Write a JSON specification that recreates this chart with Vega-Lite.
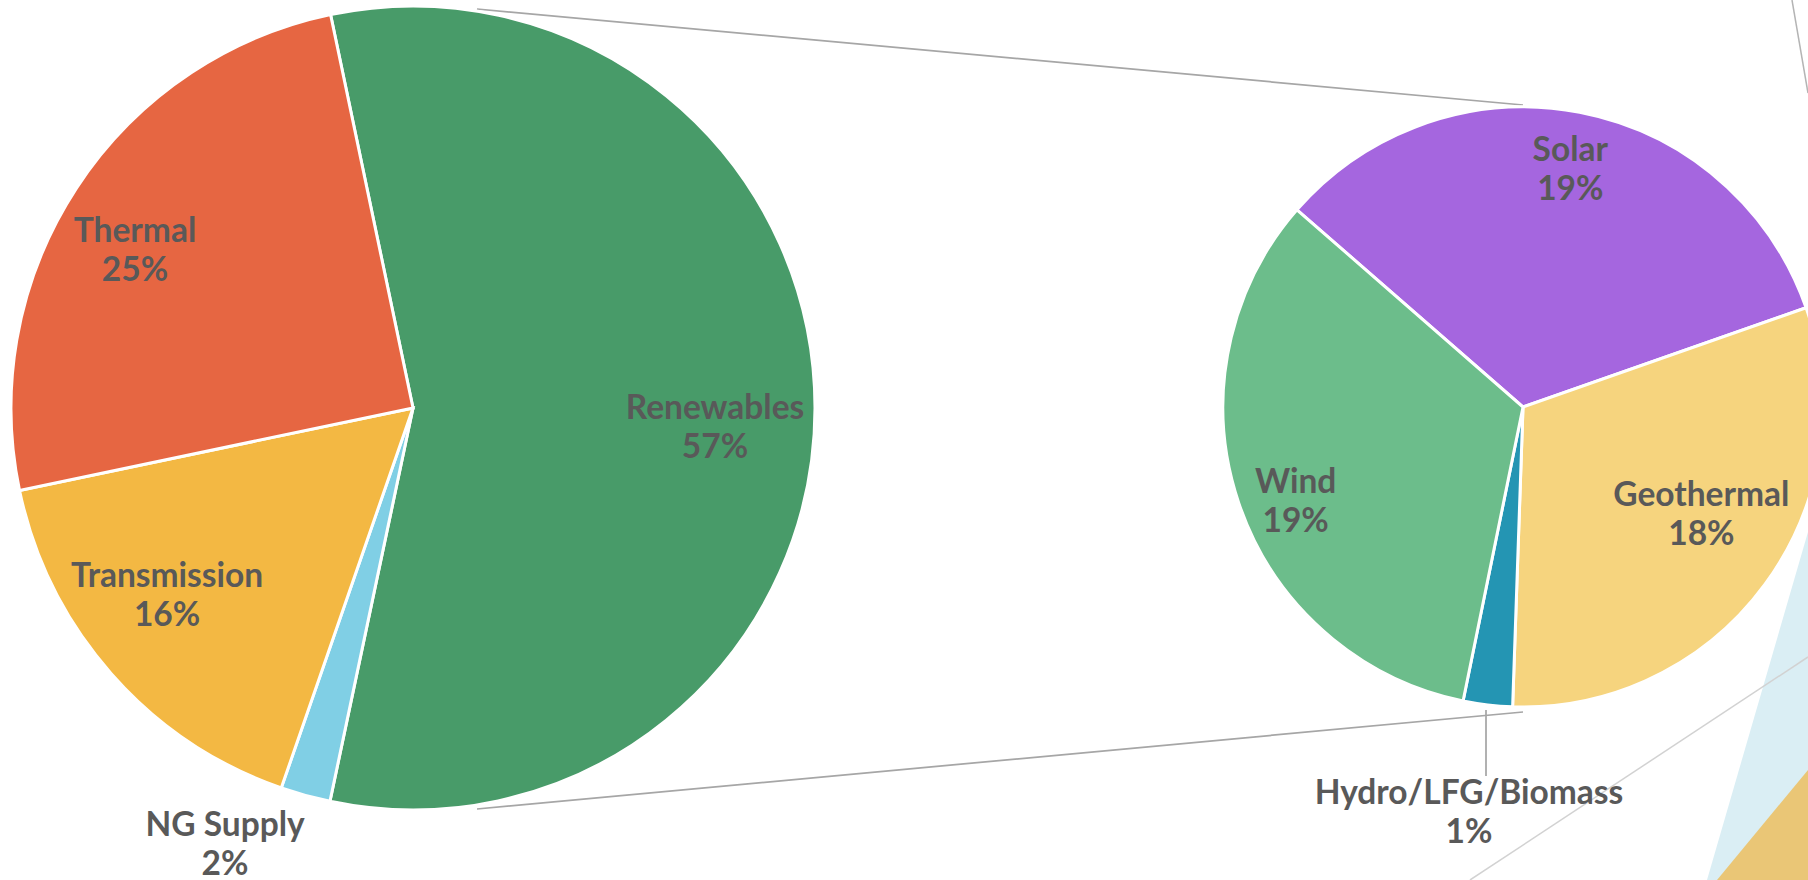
{
  "$schema": "https://vega.github.io/schema/vega-lite/v6.json",
  "width": 1808,
  "height": 880,
  "autosize": {"type": "none"},
  "padding": 0,
  "background": "white",
  "config": {"view": {"stroke": null}},
  "datasets": {
    "total": [
      {"name": "Renewables", "share": 56.6, "ord": 1, "label": "Renewables\n57%"},
      {"name": "NG Supply", "share": 2.0, "ord": 2, "label": "NG Supply\n2%"},
      {"name": "Transmission", "share": 16.4, "ord": 3, "label": "Transmission\n16%"},
      {"name": "Thermal", "share": 25.0, "ord": 4, "label": "Thermal\n25%"}
    ],
    "renewables": [
      {"name": "Solar", "share": 18.8, "ord": 1, "label": "Solar\n19%"},
      {"name": "Geothermal", "share": 17.5, "ord": 2, "label": "Geothermal\n18%"},
      {"name": "Hydro/LFG/Biomass", "share": 1.5, "ord": 3, "label": "Hydro/LFG/Biomass\n1%"},
      {"name": "Wind", "share": 18.8, "ord": 4, "label": "Wind\n19%"}
    ],
    "lines": [
      {"kind": "connector", "x": 477, "y": 9, "x2": 1523, "y2": 105},
      {"kind": "connector", "x": 477, "y": 809, "x2": 1523, "y2": 712},
      {"kind": "leader", "x": 1486, "y": 710, "x2": 1486, "y2": 776},
      {"kind": "decor", "x": 1792, "y": 0, "x2": 1808, "y2": 93},
      {"kind": "decor2", "x": 1808, "y": 657, "x2": 1470, "y2": 880}
    ],
    "areas": [
      {"kind": "blue", "x": 1707, "y": 880},
      {"kind": "blue", "x": 1808, "y": 532},
      {"kind": "tan", "x": 1717, "y": 880},
      {"kind": "tan", "x": 1808, "y": 770}
    ]
  },
  "layer": [
    {
      "data": {"name": "areas"},
      "transform": [{"filter": "datum.kind === 'blue'"}],
      "mark": {"type": "area", "color": "#DAEEF4", "orient": "vertical"},
      "encoding": {
        "x": {"field": "x", "type": "quantitative", "scale": {"domain": [0, 1808], "nice": false, "zero": false}, "axis": null},
        "y": {"field": "y", "type": "quantitative", "scale": {"domain": [0, 880], "reverse": true, "nice": false, "zero": false}, "axis": null},
        "y2": {"datum": 880}
      }
    },
    {
      "data": {"name": "areas"},
      "transform": [{"filter": "datum.kind === 'tan'"}],
      "mark": {"type": "area", "color": "#EAC676", "orient": "vertical"},
      "encoding": {
        "x": {"field": "x", "type": "quantitative", "scale": {"domain": [0, 1808], "nice": false, "zero": false}, "axis": null},
        "y": {"field": "y", "type": "quantitative", "scale": {"domain": [0, 880], "reverse": true, "nice": false, "zero": false}, "axis": null},
        "y2": {"datum": 880}
      }
    },
    {
      "data": {"name": "lines"},
      "transform": [{"filter": "datum.kind === 'decor'"}],
      "mark": {"type": "rule", "color": "#B4B4B4", "strokeWidth": 1.5},
      "encoding": {
        "x": {"field": "x", "type": "quantitative", "scale": {"domain": [0, 1808], "nice": false, "zero": false}, "axis": null},
        "y": {"field": "y", "type": "quantitative", "scale": {"domain": [0, 880], "reverse": true, "nice": false, "zero": false}, "axis": null},
        "x2": {"field": "x2"},
        "y2": {"field": "y2"}
      }
    },
    {
      "data": {"name": "lines"},
      "transform": [{"filter": "datum.kind === 'decor2'"}],
      "mark": {"type": "rule", "color": "#D2D2D2", "strokeWidth": 1.5},
      "encoding": {
        "x": {"field": "x", "type": "quantitative", "scale": {"domain": [0, 1808], "nice": false, "zero": false}, "axis": null},
        "y": {"field": "y", "type": "quantitative", "scale": {"domain": [0, 880], "reverse": true, "nice": false, "zero": false}, "axis": null},
        "x2": {"field": "x2"},
        "y2": {"field": "y2"}
      }
    },
    {
      "data": {"name": "lines"},
      "transform": [{"filter": "datum.kind === 'connector' || datum.kind === 'leader'"}],
      "mark": {"type": "rule", "color": "#A6A6A6", "strokeWidth": 1.75},
      "encoding": {
        "x": {"field": "x", "type": "quantitative", "scale": {"domain": [0, 1808], "nice": false, "zero": false}, "axis": null},
        "y": {"field": "y", "type": "quantitative", "scale": {"domain": [0, 880], "reverse": true, "nice": false, "zero": false}, "axis": null},
        "x2": {"field": "x2"},
        "y2": {"field": "y2"}
      }
    },
    {
      "data": {"name": "total"},
      "encoding": {
        "x": {"datum": 413, "type": "quantitative", "scale": {"domain": [0, 1808], "nice": false, "zero": false}, "axis": null},
        "y": {"datum": 408, "type": "quantitative", "scale": {"domain": [0, 880], "reverse": true, "nice": false, "zero": false}, "axis": null},
        "theta": {"field": "share", "type": "quantitative", "stack": true, "scale": {"range": [-0.2066, 6.0766]}},
        "order": {"field": "ord", "type": "quantitative"},
        "detail": {"field": "name", "type": "nominal"}
      },
      "layer": [
        {
          "mark": {"type": "arc", "outerRadius": 402, "stroke": "white", "strokeWidth": 3},
          "encoding": {
            "color": {
              "field": "name", "type": "nominal", "legend": null,
              "scale": {
                "domain": ["Renewables", "NG Supply", "Transmission", "Thermal", "Solar", "Geothermal", "Hydro/LFG/Biomass", "Wind"],
                "range": ["#489B69", "#80CFE5", "#F3B843", "#E66642", "#A566DF", "#F6D47E", "#2495B3", "#6CBD8B"]
              }
            }
          }
        },
        {
          "mark": {"type": "text", "radius": 313, "dx": -16, "dy": -5, "font": "Lato", "fontWeight": "bold", "fontSize": 33.5, "fill": "#595959", "lineHeight": 39, "lineBreak": "\n", "align": "center", "baseline": "middle"},
          "encoding": {"text": {"condition": {"test": "datum.name === 'Thermal'", "field": "label", "type": "nominal"}, "value": ""}}
        },
        {
          "mark": {"type": "text", "radius": 313, "dx": -11, "dy": 1, "font": "Lato", "fontWeight": "bold", "fontSize": 33.5, "fill": "#595959", "lineHeight": 39, "lineBreak": "\n", "align": "center", "baseline": "middle"},
          "encoding": {"text": {"condition": {"test": "datum.name === 'Renewables'", "field": "label", "type": "nominal"}, "value": ""}}
        },
        {
          "mark": {"type": "text", "radius": 313, "dx": -11, "dy": -38, "font": "Lato", "fontWeight": "bold", "fontSize": 33.5, "fill": "#595959", "lineHeight": 39, "lineBreak": "\n", "align": "center", "baseline": "middle"},
          "encoding": {"text": {"condition": {"test": "datum.name === 'Transmission'", "field": "label", "type": "nominal"}, "value": ""}}
        },
        {
          "mark": {"type": "text", "radius": 452, "dx": -67, "dy": -18, "font": "Lato", "fontWeight": "bold", "fontSize": 33.5, "fill": "#595959", "lineHeight": 39, "lineBreak": "\n", "align": "center", "baseline": "middle"},
          "encoding": {"text": {"condition": {"test": "datum.name === 'NG Supply'", "field": "label", "type": "nominal"}, "value": ""}}
        }
      ]
    },
    {
      "data": {"name": "renewables"},
      "encoding": {
        "x": {"datum": 1523, "type": "quantitative", "scale": {"domain": [0, 1808], "nice": false, "zero": false}, "axis": null},
        "y": {"datum": 407, "type": "quantitative", "scale": {"domain": [0, 880], "reverse": true, "nice": false, "zero": false}, "axis": null},
        "theta": {"field": "share", "type": "quantitative", "stack": true, "scale": {"range": [-0.8535, 5.4297]}},
        "order": {"field": "ord", "type": "quantitative"},
        "detail": {"field": "name", "type": "nominal"}
      },
      "layer": [
        {
          "mark": {"type": "arc", "outerRadius": 300, "stroke": "white", "strokeWidth": 3},
          "encoding": {
            "color": {
              "field": "name", "type": "nominal", "legend": null,
              "scale": {
                "domain": ["Renewables", "NG Supply", "Transmission", "Thermal", "Solar", "Geothermal", "Hydro/LFG/Biomass", "Wind"],
                "range": ["#489B69", "#80CFE5", "#F3B843", "#E66642", "#A566DF", "#F6D47E", "#2495B3", "#6CBD8B"]
              }
            }
          }
        },
        {
          "mark": {"type": "text", "radius": 240, "dx": 2, "dy": -20, "font": "Lato", "fontWeight": "bold", "fontSize": 33.5, "fill": "#595959", "lineHeight": 39, "lineBreak": "\n", "align": "center", "baseline": "middle"},
          "encoding": {"text": {"condition": {"test": "datum.name === 'Solar'", "field": "label", "type": "nominal"}, "value": ""}}
        },
        {
          "mark": {"type": "text", "radius": 240, "dx": -15, "dy": -53, "font": "Lato", "fontWeight": "bold", "fontSize": 33.5, "fill": "#595959", "lineHeight": 39, "lineBreak": "\n", "align": "center", "baseline": "middle"},
          "encoding": {"text": {"condition": {"test": "datum.name === 'Geothermal'", "field": "label", "type": "nominal"}, "value": ""}}
        },
        {
          "mark": {"type": "text", "radius": 240, "dx": 0, "dy": -1, "font": "Lato", "fontWeight": "bold", "fontSize": 33.5, "fill": "#595959", "lineHeight": 39, "lineBreak": "\n", "align": "center", "baseline": "middle"},
          "encoding": {"text": {"condition": {"test": "datum.name === 'Wind'", "field": "label", "type": "nominal"}, "value": ""}}
        },
        {
          "mark": {"type": "text", "radius": 408, "dx": -6, "dy": -18, "font": "Lato", "fontWeight": "bold", "fontSize": 33.5, "fill": "#595959", "lineHeight": 39, "lineBreak": "\n", "align": "center", "baseline": "middle"},
          "encoding": {"text": {"condition": {"test": "datum.name === 'Hydro/LFG/Biomass'", "field": "label", "type": "nominal"}, "value": ""}}
        }
      ]
    }
  ],
  "resolve": {"scale": {"theta": "independent"}}
}
